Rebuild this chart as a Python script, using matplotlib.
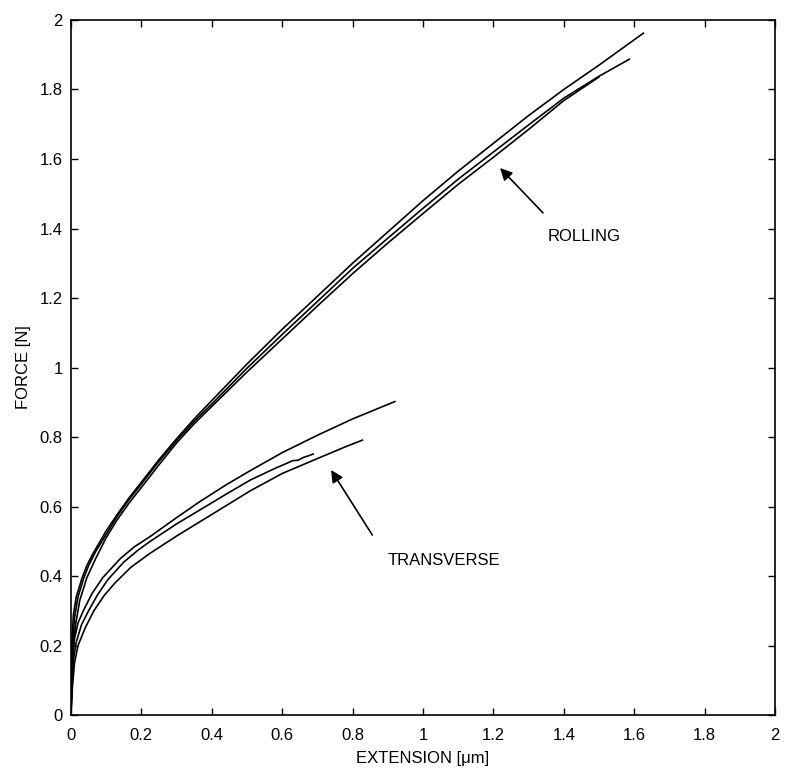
import matplotlib
matplotlib.use("Agg")
import matplotlib.pyplot as plt

plt.rcParams['font.family'] = ['Liberation Sans', 'DejaVu Sans']

# Force–extension curves, rolling direction (three specimens)
rolling_1_x = [0, 0.001, 0.003, 0.007, 0.015, 0.03, 0.045, 0.06, 0.08, 0.1, 0.13, 0.165, 0.2, 0.25,
               0.3, 0.35, 0.4, 0.5, 0.6, 0.7, 0.8, 0.9, 1.0, 1.1, 1.2, 1.3, 1.4, 1.5, 1.626]
rolling_1_y = [0, 0.12, 0.22, 0.29, 0.34, 0.39, 0.43, 0.46, 0.495, 0.53, 0.575, 0.625, 0.67, 0.735,
               0.795, 0.852, 0.905, 1.01, 1.11, 1.205, 1.30, 1.39, 1.48, 1.565, 1.645, 1.725, 1.80,
               1.87, 1.962]

rolling_2_x = [0, 0.002, 0.005, 0.01, 0.02, 0.035, 0.05, 0.07, 0.1, 0.13, 0.165, 0.2, 0.25, 0.3,
               0.35, 0.4, 0.5, 0.6, 0.7, 0.8, 0.9, 1.0, 1.1, 1.2, 1.3, 1.4, 1.5, 1.586]
rolling_2_y = [0, 0.12, 0.21, 0.28, 0.34, 0.39, 0.43, 0.47, 0.52, 0.57, 0.62, 0.665, 0.73, 0.79,
               0.845, 0.895, 0.998, 1.095, 1.19, 1.285, 1.372, 1.458, 1.542, 1.62, 1.698, 1.775,
               1.838, 1.887]

rolling_3_x = [0, 0.003, 0.007, 0.013, 0.025, 0.045, 0.07, 0.1, 0.13, 0.165, 0.2, 0.25, 0.3, 0.35,
               0.4, 0.5, 0.6, 0.7, 0.8, 0.9, 1.0, 1.1, 1.2, 1.3, 1.4, 1.5]
rolling_3_y = [0, 0.12, 0.20, 0.26, 0.33, 0.395, 0.45, 0.51, 0.56, 0.61, 0.655, 0.72, 0.783, 0.838,
               0.888, 0.987, 1.082, 1.177, 1.27, 1.358, 1.443, 1.527, 1.605, 1.685, 1.768, 1.836]

# Force–extension curves, transverse direction (three specimens)
transverse_1_x = [0, 0.002, 0.005, 0.01, 0.02, 0.035, 0.06, 0.09, 0.14, 0.18, 0.224, 0.3, 0.366,
                  0.44, 0.509, 0.6, 0.7, 0.8, 0.92]
transverse_1_y = [0, 0.10, 0.17, 0.22, 0.265, 0.30, 0.35, 0.395, 0.45, 0.484, 0.513, 0.568, 0.614,
                  0.662, 0.703, 0.755, 0.805, 0.852, 0.902]

transverse_2_x = [0, 0.003, 0.007, 0.015, 0.03, 0.05, 0.075, 0.105, 0.15, 0.19, 0.224, 0.3, 0.366,
                  0.44, 0.509, 0.58, 0.61, 0.63, 0.645, 0.66, 0.675, 0.688]
transverse_2_y = [0, 0.09, 0.16, 0.21, 0.26, 0.30, 0.345, 0.39, 0.44, 0.474, 0.499, 0.55, 0.59,
                  0.635, 0.676, 0.71, 0.723, 0.732, 0.733, 0.741, 0.746, 0.751]

transverse_3_x = [0, 0.004, 0.01, 0.02, 0.04, 0.065, 0.095, 0.125, 0.17, 0.224, 0.3, 0.366, 0.44,
                  0.509, 0.6, 0.7, 0.78, 0.828]
transverse_3_y = [0, 0.08, 0.15, 0.20, 0.25, 0.30, 0.345, 0.38, 0.425, 0.465, 0.515, 0.556, 0.602,
                  0.645, 0.695, 0.738, 0.772, 0.791]

ticks = [0, 0.2, 0.4, 0.6, 0.8, 1.0, 1.2, 1.4, 1.6, 1.8, 2.0]
tick_labels = ["0", "0.2", "0.4", "0.6", "0.8", "1", "1.2", "1.4", "1.6", "1.8", "2"]

fig = plt.figure(figsize=(7.87, 7.72), dpi=100)
ax = fig.add_axes([0.0902, 0.0738, 0.8945, 0.9003])

line_kw = dict(color="black", linewidth=1.2)
for xs, ys in [(rolling_1_x, rolling_1_y), (rolling_2_x, rolling_2_y), (rolling_3_x, rolling_3_y),
               (transverse_1_x, transverse_1_y), (transverse_2_x, transverse_2_y),
               (transverse_3_x, transverse_3_y)]:
    ax.plot(xs, ys, **line_kw)

arrow_kw = dict(arrowstyle="-|>", color="black", lw=1.2, mutation_scale=18, shrinkA=0, shrinkB=0)
ax.annotate("", xy=(1.219, 1.574), xytext=(1.341, 1.445), arrowprops=arrow_kw)
ax.annotate("", xy=(0.739, 0.705), xytext=(0.856, 0.518), arrowprops=arrow_kw)
ax.text(1.355, 1.378, "ROLLING", fontsize=12, ha="left", va="center")
ax.text(0.90, 0.446, "TRANSVERSE", fontsize=12, ha="left", va="center")

ax.set_xlim(0, 2)
ax.set_ylim(0, 2)
ax.set_xticks(ticks)
ax.set_xticklabels(tick_labels)
ax.set_yticks(ticks)
ax.set_yticklabels(tick_labels)
ax.tick_params(direction="in", length=5, width=1, top=True, right=True, labelsize=12)
ax.tick_params(axis="x", pad=9)
ax.tick_params(axis="y", pad=6)
for sp in ax.spines.values():
    sp.set_linewidth(1.2)

ax.set_xlabel("EXTENSION [μm]", fontsize=12, labelpad=6)
ax.set_ylabel("FORCE [N]", fontsize=12, labelpad=6)

fig.savefig("out.png", dpi=100)
